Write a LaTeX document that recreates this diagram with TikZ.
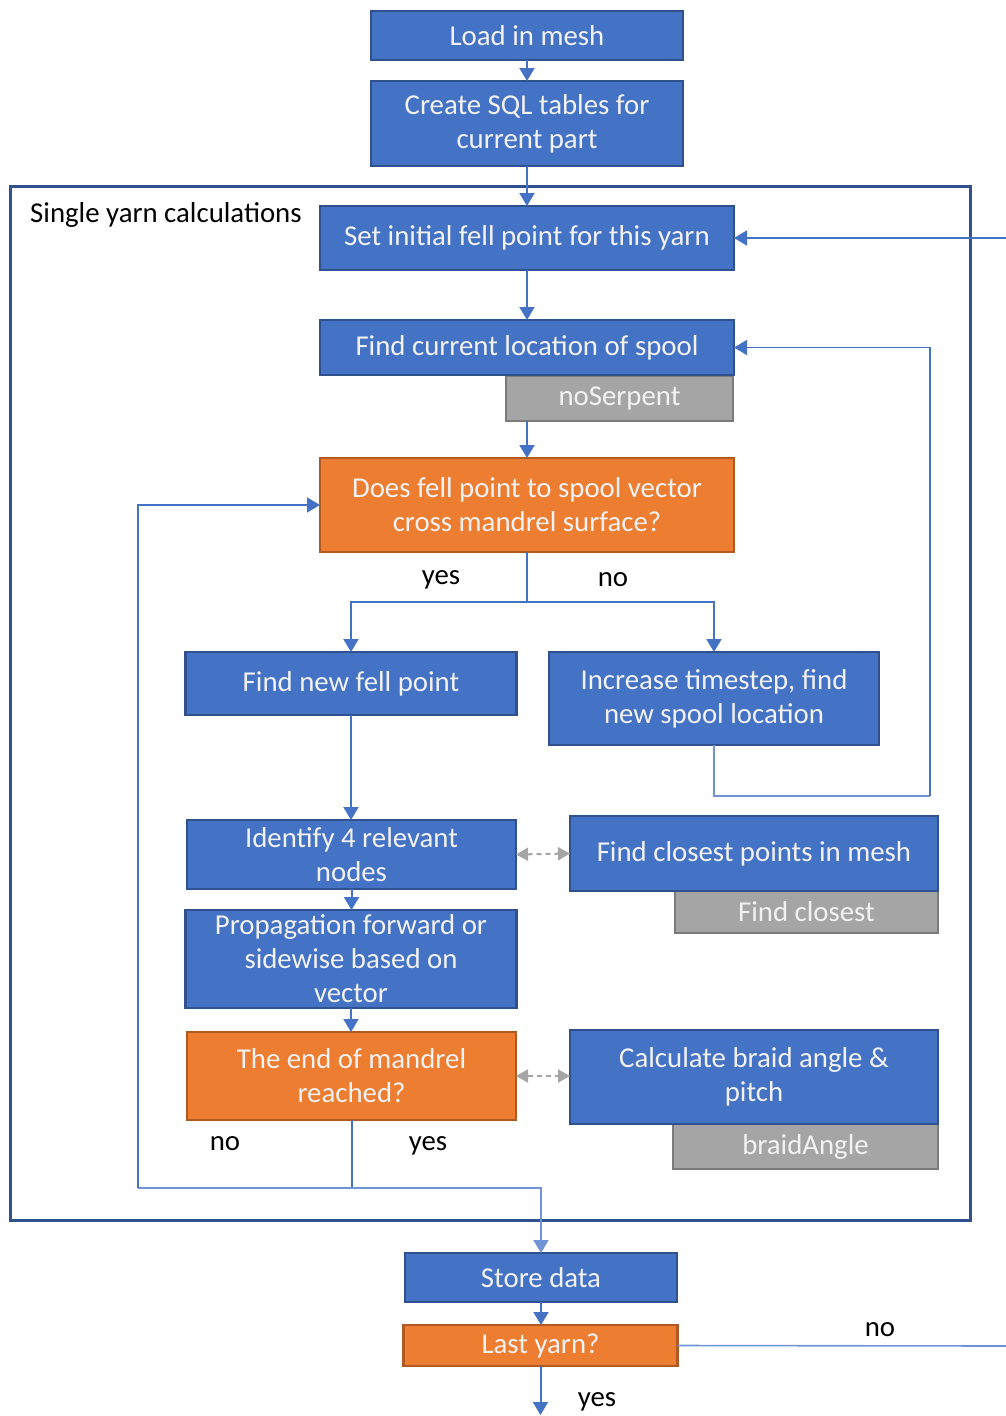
\documentclass[tikz,border=0pt]{standalone}
\usepackage{fontspec}
\setmainfont{Carlito}
\usetikzlibrary{arrows.meta}
\definecolor{bfill}{HTML}{4472C4}
\definecolor{bline}{HTML}{2F528F}
\definecolor{ofill}{HTML}{ED7D31}
\definecolor{oline}{HTML}{AE5A21}
\definecolor{gfill}{HTML}{A5A5A5}
\definecolor{gline}{HTML}{7B7B7B}
\definecolor{wire}{HTML}{4472C4}
\definecolor{wirelt}{HTML}{6F93D4}
\definecolor{txtw}{HTML}{F2F2F2}
\begin{document}
\begin{tikzpicture}[x=1pt,y=-1pt,
  every node/.style={font=\fontsize{28.8}{34}\selectfont},
  base/.style={line width=2.5pt, text=txtw, align=center, inner sep=0pt, outer sep=0pt},
  bluebox/.style={base, draw=bline, fill=bfill},
  orangebox/.style={base, draw=oline, fill=ofill},
  graytag/.style={base, draw=gline, fill=gfill},
  conn/.style={draw=wire, line width=2pt, -{Triangle[length=13pt,width=15pt]}},
  plain/.style={draw=wire, line width=2pt},
  back/.style={draw=wirelt, line width=1.6pt},
  backarrow/.style={back, -{Triangle[length=13pt,width=15pt]}, color=wire},
  assoc/.style={draw=gfill, line width=2pt, dashed, dash pattern=on 5pt off 4pt,
    {Triangle[length=12pt,width=13pt]}-{Triangle[length=12pt,width=13pt]}},
  lbl/.style={text=black, inner sep=0pt}
]
\useasboundingbox (0,0) rectangle (1006,1416);

% container for the per-yarn loop
\draw[draw=bline, line width=3pt] (10,186) rectangle (970,1220);
\node[lbl, anchor=west] (grp) at (30,215) {Single yarn calculations};

% gray tags sit under their process boxes
\node[graytag, minimum width=227pt, minimum height=45pt] (tagA) at (619.5,398.5) {noSerpent};
\node[graytag, minimum width=263pt, minimum height=42pt] (tagB) at (806.5,912) {Find closest};
\node[graytag, minimum width=265pt, minimum height=45pt] (tagC) at (805.5,1146.5) {braidAngle};

% process and decision boxes
\node[bluebox, minimum width=312pt, minimum height=49pt] (load) at (527,35.5) {Load in mesh};
\node[bluebox, minimum width=312pt, minimum height=85pt] (sql) at (527,123.5) {Create SQL tables for\\current part};
\node[bluebox, minimum width=414pt, minimum height=64pt] (set) at (527,238) {Set initial fell point for this yarn};
\node[bluebox, minimum width=414pt, minimum height=55pt] (spool) at (527,347.5) {Find current location of spool};
\node[orangebox, minimum width=414pt, minimum height=94pt] (cross) at (527,505) {Does fell point to spool vector\\cross mandrel surface?};
\node[bluebox, minimum width=331pt, minimum height=63pt] (fell) at (351,683.5) {Find new fell point};
\node[bluebox, minimum width=330pt, minimum height=93pt] (incr) at (714,698.5) {Increase timestep, find\\new spool location};
\node[bluebox, minimum width=329pt, minimum height=69pt] (ident) at (351.5,854.5) {Identify 4 relevant\\nodes};
\node[bluebox, minimum width=368pt, minimum height=75pt] (close) at (754,853.5) {Find closest points in mesh};
\node[bluebox, minimum width=331pt, minimum height=98pt] (prop) at (351,959) {Propagation forward or\\sidewise based on\\vector};
\node[orangebox, minimum width=329pt, minimum height=88pt] (endq) at (351.5,1076) {The end of mandrel\\reached?};
\node[bluebox, minimum width=368pt, minimum height=94pt] (braid) at (754,1077) {Calculate braid angle \&\\pitch};
\node[bluebox, minimum width=272pt, minimum height=49pt] (store) at (541,1277.5) {Store data};
\node[orangebox, minimum width=274pt, minimum height=41pt] (last) at (540.5,1345.5) {Last yarn?};

% branch labels
\node[lbl] (yesA) at (441,580) {yes};
\node[lbl] (noA) at (613,580) {no};
\node[lbl] (noB) at (225,1144) {no};
\node[lbl] (yesB) at (428,1146) {yes};
\node[lbl] (noC) at (880,1330) {no};
\node[lbl] (yesC) at (597,1402) {yes};

% junctions and free ends
\coordinate (split) at (527,602);
\coordinate (turnR) at (930,796);
\coordinate (join) at (351.5,1188);
\coordinate (turnL) at (138,1188);
\coordinate (inEnd) at (1006,238);
\coordinate (noEnd) at (1006,1346);
\coordinate (outEnd) at (540.5,1415);

% main flow
\draw[conn] (load) -- (sql);
\draw[conn] (sql) -- (set);
\draw[conn] (set) -- (spool);
\draw[conn] (cross.north |- tagA.south) -- (cross.north);
\draw[plain] (cross.south) -- (split);
\draw[conn] (split) -| (fell.north);
\draw[conn] (split) -| (incr.north);
\draw[back] (incr.south) |- (turnR);
\draw[backarrow] (turnR) |- (spool.east);
\draw[conn] (fell.south) -- (fell.south |- ident.north);
\draw[conn] (ident.south) -- (ident.south |- prop.north);
\draw[conn] (prop.south) -- (prop.south |- endq.north);
\draw[plain] (endq.south) -- (join);
\draw[back] (join) -- (turnL);
\draw[backarrow] (turnL) |- (cross.west);
\draw[conn, draw=wirelt] (join) -| (store.north);
\draw[conn] (store.south) -- (store.south |- last.north);
\draw[conn] (last.south) -- (outEnd);
\draw[back] (last.east) -- (noEnd);
\draw[backarrow] (inEnd) -- (set.east);

% associations with helper routines
\draw[assoc] (ident.east) -- (close.west);
\draw[assoc] (endq.east) -- (braid.west |- endq.east);
\end{tikzpicture}
\end{document}
